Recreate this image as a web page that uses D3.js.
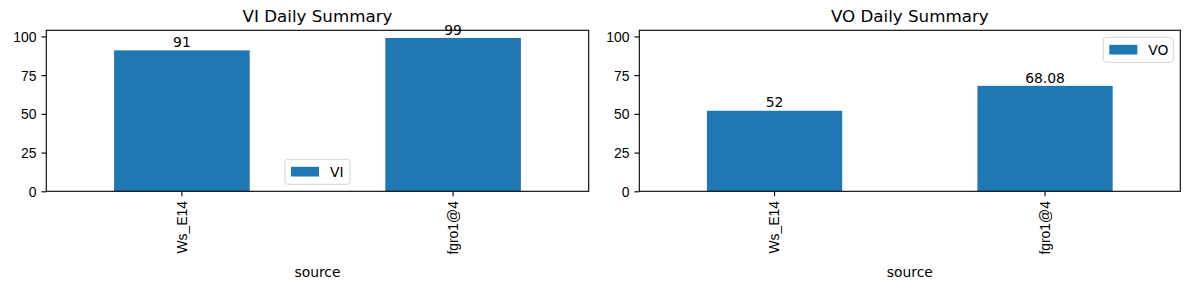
<!DOCTYPE html>
<html>
<head>
<meta charset="utf-8">
<script src="https://cdn.jsdelivr.net/npm/d3@7"></script>
<style>
  body { margin: 0; background: #fff; }
  svg { display: block; font-family: "DejaVu Sans", sans-serif; }
  .axis text { font-size: 13.9px; fill: #000; }
  .axis line { stroke: #000; stroke-width: 1.1; }
</style>
</head>
<body>
<svg id="chart" width="1189" height="290"></svg>
<script>
// data
const sources = ["Ws_E14", "fgro1@4"];
const viValues = [91, 99];
const voValues = [52, 68.08];
const yTicks = [0, 25, 50, 75, 100];

const barColor = "#1f77b4";
const svg = d3.select("#chart");

// shared y limit like matplotlib's 5% margin
const yMax = d3.max(viValues.concat(voValues)) * 1.05;

function drawPanel(box, title, values, seriesName, legendPos) {
    const g = svg.append("g");

    const x = d3.scaleBand()
        .domain(sources)
        .range([box.left, box.right])
        .paddingInner(0.5)
        .paddingOuter(0.25);

    const y = d3.scaleLinear()
        .domain([0, yMax])
        .range([box.bottom, box.top]);

    const rows = sources.map((s, i) => ({ source: s, value: values[i] }));

    // bars
    g.selectAll(".bar")
        .data(rows)
        .join("rect")
        .attr("class", "bar")
        .attr("x", d => x(d.source))
        .attr("y", d => y(d.value))
        .attr("width", x.bandwidth())
        .attr("height", d => y(0) - y(d.value))
        .attr("fill", barColor);

    // bar labels
    g.selectAll(".barlabel")
        .data(rows)
        .join("text")
        .attr("class", "barlabel")
        .attr("x", d => x(d.source) + x.bandwidth() / 2)
        .attr("y", d => y(d.value) - 3.3)
        .attr("text-anchor", "middle")
        .attr("font-size", "13.9px")
        .attr("fill", "#000")
        .text(d => String(d.value));

    // y axis
    const yAxis = d3.axisLeft(y).tickValues(yTicks).tickSize(4.9).tickPadding(4.9);
    g.append("g").attr("class", "axis")
        .attr("transform", `translate(${box.left}, 0)`)
        .call(yAxis)
        .call(a => a.select(".domain").remove())
        .selectAll("text").attr("dy", "0.35em");

    // x axis with rotated labels
    const xAxis = d3.axisBottom(x).tickSize(4.9).tickPadding(0);
    const xg = g.append("g").attr("class", "axis")
        .attr("transform", `translate(0, ${box.bottom})`)
        .call(xAxis)
        .call(a => a.select(".domain").remove());
    xg.selectAll("text")
        .attr("transform", "translate(0, 9.8) rotate(-90)")
        .attr("x", 0)
        .attr("y", 0)
        .attr("dy", "0.35em")
        .attr("text-anchor", "end");

    // frame
    g.append("rect")
        .attr("x", box.left)
        .attr("y", box.top)
        .attr("width", box.right - box.left)
        .attr("height", box.bottom - box.top)
        .attr("fill", "none")
        .attr("stroke", "#000")
        .attr("stroke-width", 1.1);

    // title
    g.append("text")
        .attr("x", (box.left + box.right) / 2)
        .attr("y", box.top - 8.6)
        .attr("text-anchor", "middle")
        .attr("font-size", "16.7px")
        .attr("fill", "#000")
        .text(title);

    // x label
    g.append("text")
        .attr("x", (box.left + box.right) / 2)
        .attr("y", 277)
        .attr("text-anchor", "middle")
        .attr("font-size", "13.9px")
        .attr("fill", "#000")
        .text("source");

    // legend
    const lw = 65, lh = 25;
    let lx, ly;
    if (legendPos === "lower center") {
        lx = (box.left + box.right) / 2 - lw / 2;
        ly = box.bottom - 7 - lh;
    } else {
        lx = box.right - 7 - (lw + 5);
        ly = box.top + 7;
    }
    const lwidth = legendPos === "lower center" ? lw : lw + 5;
    const leg = g.append("g").attr("transform", `translate(${lx}, ${ly})`);
    leg.append("rect")
        .attr("width", lwidth)
        .attr("height", lh)
        .attr("rx", 3)
        .attr("fill", "#fff")
        .attr("fill-opacity", 0.8)
        .attr("stroke", "#d5d5d5")
        .attr("stroke-width", 1);
    leg.append("rect")
        .attr("x", 6)
        .attr("y", 7.5)
        .attr("width", 28)
        .attr("height", 9.7)
        .attr("fill", barColor);
    leg.append("text")
        .attr("x", 45)
        .attr("y", lh / 2)
        .attr("dy", "0.35em")
        .attr("font-size", "13.9px")
        .attr("fill", "#000")
        .text(seriesName);
}

drawPanel({ left: 46.3, right: 588.7, top: 30.3, bottom: 191.3 },
    "VI Daily Summary", viValues, "VI", "lower center");
drawPanel({ left: 639.3, right: 1180.3, top: 30.3, bottom: 191.3 },
    "VO Daily Summary", voValues, "VO", "upper right");
</script>
</body>
</html>
